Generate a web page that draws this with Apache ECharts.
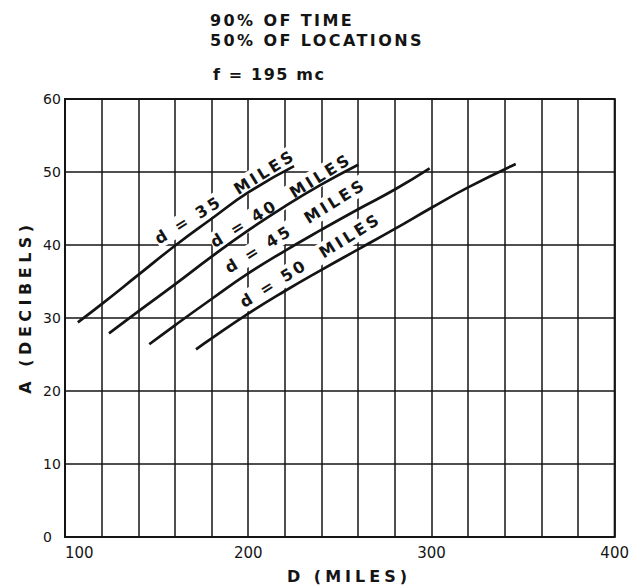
<!DOCTYPE html>
<html><head><meta charset="utf-8">
<script src="https://cdn.jsdelivr.net/npm/echarts@6/dist/echarts.min.js"></script>
<style>html,body{margin:0;padding:0;background:#fff}#c{width:632px;height:586px}</style>
</head><body><div id="c"></div>
<script>
// ---- data ----
const xTicks = [100, 200, 300, 400];
const yTicks = [0, 10, 20, 30, 40, 50, 60];
const d35X = [107, 120, 140, 160, 180, 200, 225];
const d35Y = [29.4, 31.9, 35.9, 39.9, 43.6, 47.2, 50.8];
const d40X = [124, 140, 160, 180, 200, 220, 240, 260];
const d40Y = [27.9, 30.9, 34.6, 38.4, 42.0, 45.3, 48.3, 51.0];
const d45X = [146, 160, 180, 200, 220, 240, 260, 280, 299];
const d45Y = [26.4, 29.0, 32.6, 36.1, 39.2, 42.1, 44.9, 47.6, 50.5];
const d50X = [171.5, 180, 200, 220, 240, 260, 280, 300, 320, 346];
const d50Y = [25.7, 27.2, 30.6, 33.7, 36.6, 39.4, 42.2, 45.1, 47.9, 51.1];
const curveNames = ['d = 35  MILES', 'd = 40  MILES', 'd = 45  MILES', 'd = 50  MILES'];
const labelX = [187.4, 217.9, 225.8, 234.0];
const labelY = [46.6, 46.1, 42.6, 37.9];
const titleLines = ['90% OF TIME', '50% OF LOCATIONS', 'f = 195 mc'];
const xName = 'D (MILES)';
const yName = 'A (DECIBELS)';

const zip = (a, b) => a.map((v, i) => [v, b[i]]);
const curves = [zip(d35X, d35Y), zip(d40X, d40Y), zip(d45X, d45Y), zip(d50X, d50Y)];
const INK = '#141414';
const FONT = '"DejaVu Sans", sans-serif';

const chart = echarts.init(document.getElementById('c'), null, {renderer: 'svg'});
const series = curves.map((c) => ({
  type: 'line', data: c, smooth: 0.5, symbol: 'none', z: 5,
  lineStyle: {color: INK, width: 2.7}, silent: true, animation: false
}));

const staticGraphics = [
  {type: 'text', left: 210, top: 12, z: 10, style: {text: titleLines[0], font: 'bold 16px ' + FONT, fill: INK}},
  {type: 'text', left: 210, top: 32, z: 10, style: {text: titleLines[1], font: 'bold 16px ' + FONT, fill: INK}},
  {type: 'text', left: 213, top: 66, z: 10, style: {text: titleLines[2], font: 'bold 16px ' + FONT, fill: INK}},
  {type: 'text', x: 349, y: 576, z: 10, style: {text: xName, font: 'bold 16px ' + FONT, fill: INK, align: 'center', verticalAlign: 'middle'}},
  {type: 'text', x: 25, y: 307, z: 10, rotation: Math.PI / 2, style: {text: yName, font: 'bold 16px ' + FONT, fill: INK, align: 'center', verticalAlign: 'middle'}}
];

chart.setOption({
  backgroundColor: '#fff',
  animation: false,
  grid: {left: 65, right: 16, top: 99, bottom: 49, show: true, borderColor: INK, borderWidth: 2, backgroundColor: 'transparent'},
  xAxis: {
    type: 'value', min: 100, max: 400, interval: 20,
    axisLine: {show: false}, axisTick: {show: false},
    splitLine: {show: true, lineStyle: {color: INK, width: 1.5}},
    axisLabel: {
      formatter: v => (xTicks.indexOf(v) >= 0 ? String(v) : ''),
      fontFamily: FONT, fontSize: 15, color: INK, margin: 8,
      alignMinLabel: 'left', showMinLabel: true, showMaxLabel: true
    }
  },
  yAxis: {
    type: 'value', min: 0, max: 60, interval: 10,
    axisLine: {show: false}, axisTick: {show: false},
    splitLine: {show: true, lineStyle: {color: INK, width: 1.5}},
    axisLabel: {
      formatter: v => (yTicks.indexOf(v) >= 0 ? String(v) : ''),
      fontFamily: FONT, fontSize: 14, color: INK, margin: 22, align: 'left'
    }
  },
  graphic: staticGraphics,
  series: series
});

// curve labels, positioned through the chart's own scales
const ROT = 32 * Math.PI / 180;
const labelGraphics = curveNames.map((t, i) => {
  const p = chart.convertToPixel({gridIndex: 0}, [labelX[i], labelY[i]]);
  return {
    type: 'text', x: p[0], y: p[1], rotation: ROT, z: 3,
    style: {
      text: t, font: 'bold 16px ' + FONT, fill: INK, align: 'center', verticalAlign: 'middle',
      backgroundColor: '#fff', padding: [3, 20, 1, 20]
    }
  };
});
chart.setOption({graphic: staticGraphics.concat(labelGraphics)}, {replaceMerge: ['graphic']});

// wide hand-lettered spacing of the original
const spacing = {};
titleLines.forEach(t => spacing[t] = '2.4px');
spacing[titleLines[2]] = '1.6px';
curveNames.forEach(t => spacing[t] = '3px');
spacing[xName] = '4px';
spacing[yName] = '4.5px';
function applySpacing() {
  document.querySelectorAll('#c text').forEach(el => {
    const s = spacing[el.textContent];
    if (s) el.style.letterSpacing = s;
  });
}
chart.getZr().flush && chart.getZr().flush();
applySpacing();
chart.on('finished', applySpacing);
</script></body></html>
